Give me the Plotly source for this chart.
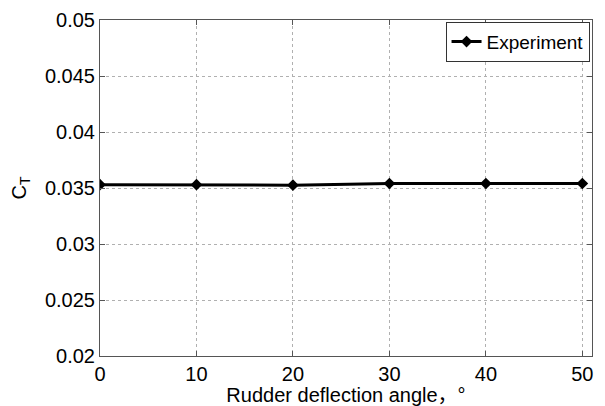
import plotly.graph_objects as go

angles = [0, 10, 20, 30, 40, 50]
ct_experiment = [0.03530, 0.03530, 0.03525, 0.03540, 0.03540, 0.03540]
x_ticks = [0, 10, 20, 30, 40, 50]
y_ticks = [0.02, 0.025, 0.03, 0.035, 0.04, 0.045, 0.05]
y_tick_labels = ["0.02", "0.025", "0.03", "0.035", "0.04", "0.045", "0.05"]

font_family = "Liberation Sans, Arial, Noto Sans CJK SC, sans-serif"

fig = go.Figure()
fig.add_trace(go.Scatter(
    x=angles, y=ct_experiment, mode="lines+markers", name="Experiment",
    line=dict(color="black", width=3),
    marker=dict(symbol="diamond", size=9, color="black"),
))

axis_common = dict(
    showline=True, linecolor="#555555", linewidth=1, mirror="ticks",
    ticks="inside", ticklen=5, tickcolor="#555555", automargin=False,
    showgrid=True, gridcolor="#b0b0b0", griddash="dot", gridwidth=1,
    zeroline=False, tickfont=dict(size=20, color="black", family=font_family),
)

fig.update_layout(
    width=597, height=398,
    margin=dict(l=92, r=13, t=12, b=50),
    paper_bgcolor="white", plot_bgcolor="white",
    font=dict(family=font_family, color="black"),
    xaxis=dict(range=[0, 51], tickvals=x_ticks, **axis_common,
               title=dict(text="Rudder deflection angle，°", font=dict(size=20), standoff=0)),
    yaxis=dict(range=[0.02, 0.05], tickvals=y_ticks, ticktext=y_tick_labels, **axis_common,
               title=dict(text="C<sub>T</sub>", font=dict(size=20), standoff=14)),
    showlegend=True,
    legend=dict(x=0.995, y=0.995, xanchor="right", yanchor="top",
                bordercolor="#333333", borderwidth=1, bgcolor="white",
                font=dict(size=19, color="black"), itemwidth=30,
                tracegroupgap=0),
)

fig.write_html("out.html")
